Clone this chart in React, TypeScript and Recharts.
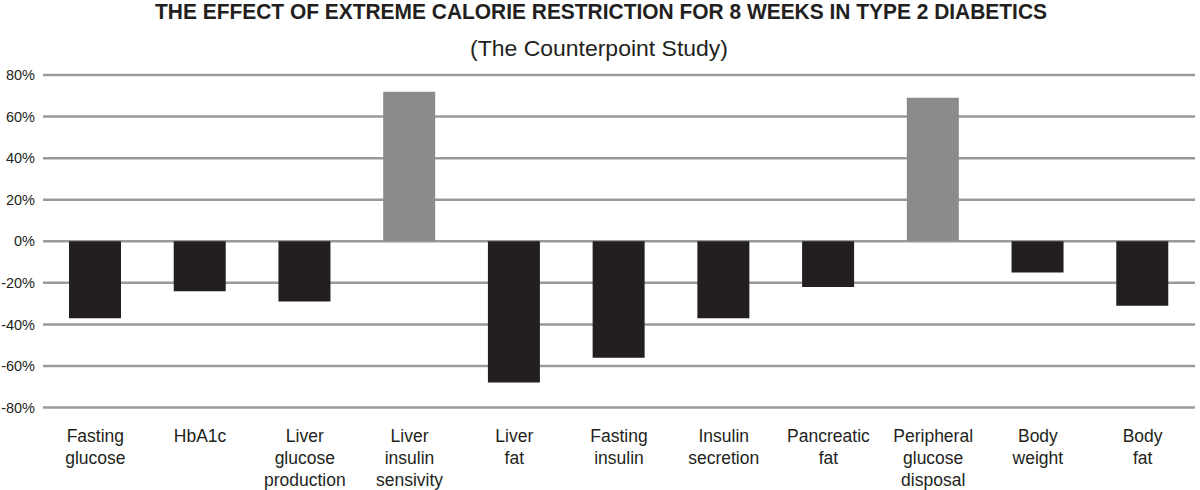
import React from "react";
import { BarChart, Bar, XAxis, YAxis, CartesianGrid, Cell } from "recharts";

const categories = [
  "Fasting\nglucose",
  "HbA1c",
  "Liver\nglucose\nproduction",
  "Liver\ninsulin\nsensivity",
  "Liver\nfat",
  "Fasting\ninsulin",
  "Insulin\nsecretion",
  "Pancreatic\nfat",
  "Peripheral\nglucose\ndisposal",
  "Body\nweight",
  "Body\nfat",
];
const changes = [-37, -24, -29, 72, -68, -56, -37, -22, 69, -15, -31];
const yTicks = [-80, -60, -40, -20, 0, 20, 40, 60, 80];

const data = categories.map((name, i) => ({ name, value: changes[i] }));

const TEXT = "#231f20";
const DARK = "#231f20";
const LIGHT = "#8b8b8e";

const XTick = (props: any) => {
  const { x, y, payload } = props;
  const lines = String(payload.value).split("\n");
  return (
    <text
      x={x}
      y={y + 26}
      textAnchor="middle"
      fill={TEXT}
      fontSize={17.5}
      fontFamily="Liberation Sans, Arial, sans-serif"
    >
      {lines.map((l, i) => (
        <tspan key={i} x={x} dy={i === 0 ? 0 : 22}>
          {l}
        </tspan>
      ))}
    </text>
  );
};

export default function App() {
  return (
    <div style={{ position: "absolute", left: 0, top: 0, width: 1200, height: 490, background: "#fff" }}>
      <svg width={1200} height={70} style={{ position: "absolute", left: 0, top: 0 }}>
        <text
          x={155}
          y={18.5}
          textLength={892}
          lengthAdjust="spacingAndGlyphs"
          fontFamily="'Liberation Sans Narrow', 'Arial Narrow', 'Liberation Sans', sans-serif"
          fontWeight="bold"
          fontSize={22}
          fill={TEXT}
        >
          THE EFFECT OF EXTREME CALORIE RESTRICTION FOR 8 WEEKS IN TYPE 2 DIABETICS
        </text>
        <text
          x={470}
          y={56}
          textLength={258}
          lengthAdjust="spacingAndGlyphs"
          fontFamily="Liberation Sans, Arial, sans-serif"
          fontSize={22.5}
          fill={TEXT}
        >
          (The Counterpoint Study)
        </text>
      </svg>
      <BarChart
        width={1200}
        height={490}
        data={data}
        margin={{ top: 75, right: 5, bottom: 0, left: 0 }}
      >
        <CartesianGrid vertical={false} stroke="#9a9a9c" strokeWidth={2.5} />
        <XAxis
          dataKey="name"
          height={82.5}
          tickLine={false}
          axisLine={false}
          interval={0}
          tick={<XTick />}
        />
        <YAxis
          width={43}
          domain={[-80, 80]}
          ticks={yTicks}
          tickFormatter={(v: number) => `${v}%`}
          tickLine={false}
          axisLine={false}
          tick={{ fill: TEXT, fontSize: 14.5, fontFamily: "Liberation Sans, Arial, sans-serif" }}
        />
        <Bar dataKey="value" barSize={52} isAnimationActive={false}>
          {data.map((d, i) => (
            <Cell key={i} fill={d.value > 0 ? LIGHT : DARK} />
          ))}
        </Bar>
      </BarChart>
    </div>
  );
}
